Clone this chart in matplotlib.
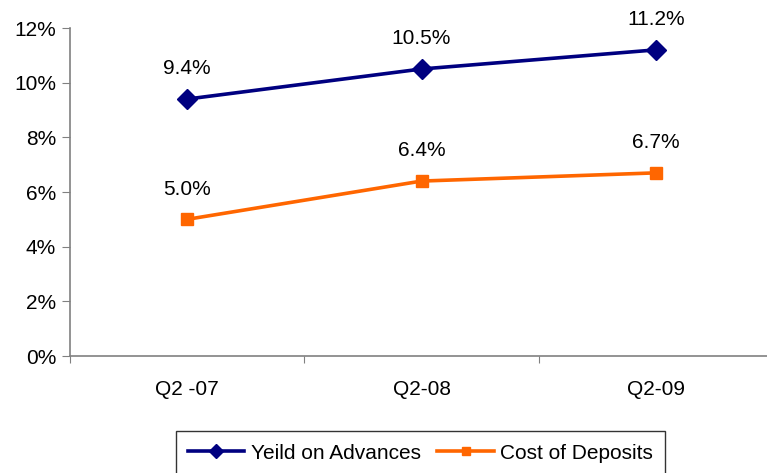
import matplotlib as mpl
import matplotlib.pyplot as plt
from matplotlib.ticker import FuncFormatter

mpl.rcParams.update({'font.family': ['Liberation Sans', 'DejaVu Sans'],
                     'font.size': 15})

quarters = ['Q2 -07', 'Q2-08', 'Q2-09']
yield_adv = [9.4, 10.5, 11.2]
cost_dep = [5.0, 6.4, 6.7]
navy = '#000080'
orange = '#FF6600'

fig = plt.figure(figsize=(7.67, 4.73), dpi=100, facecolor='w')
ax = fig.add_axes([70 / 767, 1 - 356 / 473, 703 / 767, 328 / 473])

x = range(len(quarters))
ax.plot(x, yield_adv, color=navy, lw=2.6, marker='D', ms=10.5, label='Yeild on Advances')
ax.plot(x, cost_dep, color=orange, lw=2.6, marker='s', ms=8.5, label='Cost of Deposits')

for xi, v in zip(x, yield_adv):
    ax.annotate(f'{v:.1f}%', (xi, v), xytext=(0, 15), textcoords='offset points',
                ha='center', va='bottom', fontsize=15)
for xi, v in zip(x, cost_dep):
    ax.annotate(f'{v:.1f}%', (xi, v), xytext=(0, 15), textcoords='offset points',
                ha='center', va='bottom', fontsize=15)

ax.set_xlim(-0.5, 2.5)
ax.set_ylim(0, 12)
ax.set_yticks(range(0, 13, 2))
ax.yaxis.set_major_formatter(FuncFormatter(lambda v, p: f'{v:.0f}%'))
ax.set_xticks([-0.5, 0.5, 1.5, 2.5])
ax.set_xticklabels([])
ax.set_xticks(list(x), minor=True)
ax.set_xticklabels(quarters, minor=True)
ax.tick_params(axis='x', which='minor', length=0, pad=17, labelsize=15)
ax.tick_params(axis='x', which='major', direction='out', length=5, color='#808080')
ax.tick_params(axis='y', direction='out', length=6, color='#808080', labelsize=15, pad=4)

for s in ['top', 'right']:
    ax.spines[s].set_visible(False)
for s in ['left', 'bottom']:
    ax.spines[s].set_color('#808080')
    ax.spines[s].set_linewidth(1.2)

leg = fig.legend(loc='upper center', bbox_to_anchor=(420.5 / 767, 1 - 431 / 473), ncol=2,
                 frameon=True, fancybox=False, edgecolor='black', fontsize=15,
                 handlelength=2.7, handletextpad=0.3, columnspacing=0.8,
                 borderpad=0.6, borderaxespad=0)
leg.get_frame().set_linewidth(1.0)
for h, ms in zip(leg.legend_handles, [7, 6]):
    h.set_markersize(ms)

fig.savefig('out.png', dpi=100, facecolor='w')
